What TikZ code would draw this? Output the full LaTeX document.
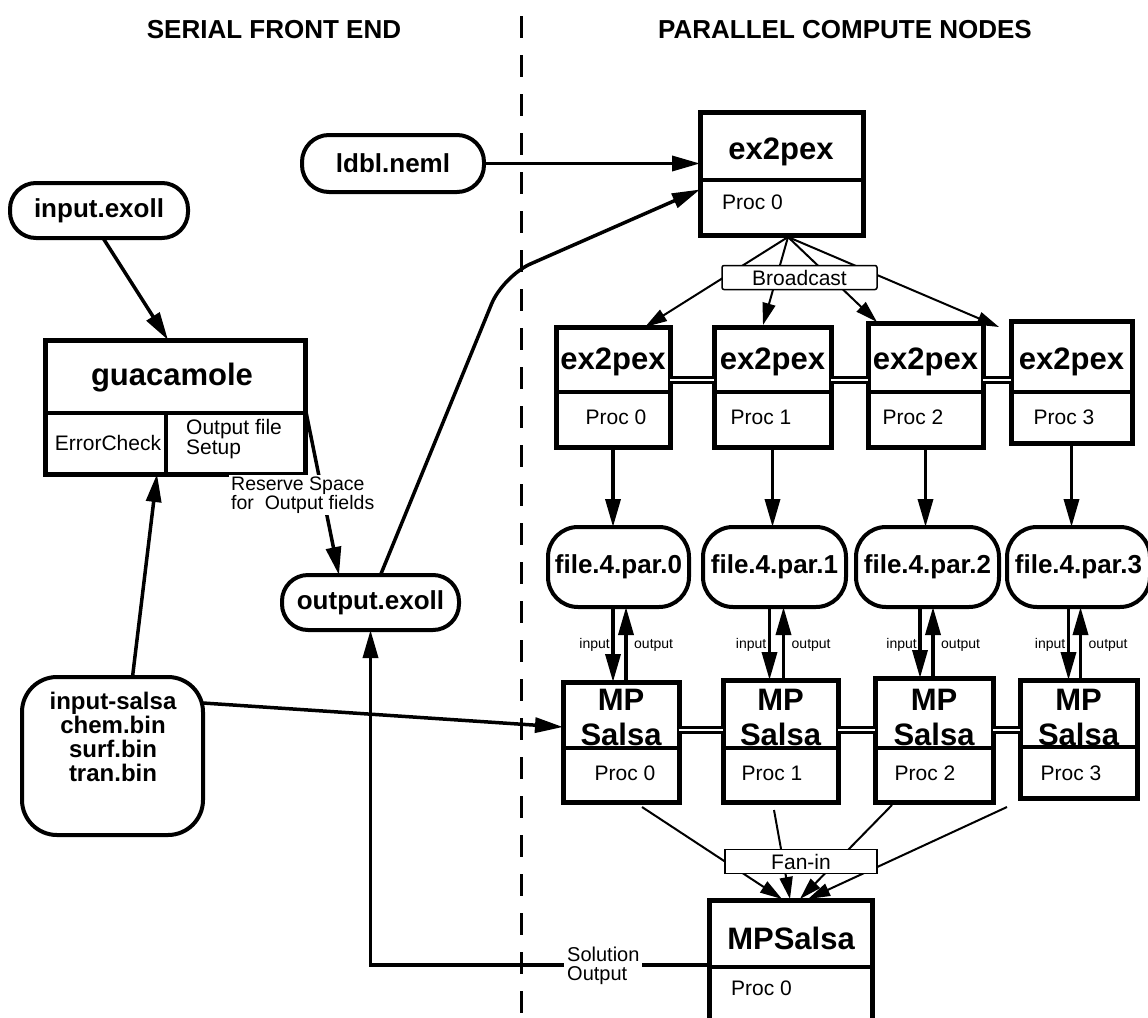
\documentclass[tikz,border=0pt]{standalone}
\usepackage{fontspec}
\setmainfont{Liberation Sans}
\usetikzlibrary{arrows.meta}
\tikzset{
  boxn/.style={draw, line width=5pt, inner sep=0pt, outer sep=0pt},
  pill/.style={draw, line width=4pt, rounded corners=#1, inner sep=0pt, outer sep=0pt},
  divl/.style={line width=3.5pt},
  ttl/.style={font=\fontsize{26}{28}\selectfont\bfseries, inner sep=0pt},
  lbig/.style={font=\fontsize{31}{32}\selectfont\bfseries, inner sep=0pt},
  lpill/.style={font=\fontsize{26}{26}\selectfont\bfseries, inner sep=0pt},
  lproc/.style={font=\fontsize{21}{21}\selectfont, inner sep=0pt},
  lnote/.style={font=\fontsize{19.5}{16.5}\selectfont, inner sep=2pt, align=left, fill=white},
  lsol/.style={font=\fontsize{20}{19}\selectfont, inner sep=3pt, align=left, fill=white},
  lio/.style={font=\fontsize{14}{14}\selectfont, inner sep=0pt},
  tagbox/.style={draw, line width=1.5pt, fill=white, rounded corners=2pt, inner sep=0pt,
    minimum height=24pt, font=\fontsize{21}{21}\selectfont},
  conn/.style={line width=3.5pt, -{Triangle[length=28pt,width=15pt]}},
  fine/.style={line width=2pt, -{Triangle[length=22pt,width=13pt]}},
  linkln/.style={line width=2.5pt, double, double distance=2.5pt},
  sepline/.style={line width=3pt, dash pattern=on 22pt off 17pt},
}
\begin{document}
\begin{tikzpicture}[x=1pt,y=-1pt]
\useasboundingbox (0,0) rectangle (1148,1017);
\fill[white] (0,0) rectangle (1148,1017);

% titles and separator
\node[ttl] (t1) at (274,30) {SERIAL FRONT END};
\node[ttl] (t2) at (845,30) {PARALLEL COMPUTE NODES};
\coordinate (septop) at (521,16);
\coordinate (sepbot) at (521,1017);
\draw[sepline] (septop) -- (sepbot);

% serial side nodes
\node[pill=27pt, minimum width=182pt, minimum height=57pt, lpill] (ldbl) at (393,163.5) {ldbl.neml};
\node[pill=26pt, minimum width=178pt, minimum height=55pt, lpill] (inexoll) at (99,210.5) {input.exoll};
\node[boxn, minimum width=260pt, minimum height=134pt] (guac) at (175,407) {};
\node[lbig] (guact) at (172,378) {guacamole};
\draw[divl] (45,413) -- (305,413);
\draw[divl] (166,413) -- (166,474);
\node[lproc] (errc) at (108,443) {ErrorCheck};
\node[lproc, anchor=west, align=left, font=\fontsize{21}{18}\selectfont] (ofs) at (186,439) {Output file\\Setup};
\node[pill=26pt, minimum width=177pt, minimum height=55pt, lpill] (outexoll) at (370.5,602.5) {output.exoll};
\node[pill=35pt, minimum width=181pt, minimum height=158pt, inner sep=0pt] (insalsa) at (112.5,756) {};
\node[lpill, align=center, font=\fontsize{24}{24}\selectfont\bfseries] (insalsat) at (113,737) {input-salsa\\chem.bin\\surf.bin\\tran.bin};

% top ex2pex
\node[boxn, minimum width=163pt, minimum height=123pt] (ex0) at (781.5,173.5) {};
\node[lbig] (ex0t) at (781,152) {ex2pex};
\draw[divl] (700,180) -- (863,180);
\node[lproc, anchor=west] (ex0p) at (722,202) {Proc 0};

% ex2pex row
\node[boxn, minimum width=114pt, minimum height=120pt] (B1) at (613,387) {};
\node[boxn, minimum width=117pt, minimum height=120pt] (B2) at (772.5,387) {};
\node[boxn, minimum width=115pt, minimum height=124pt] (B3) at (925.5,385) {};
\node[boxn, minimum width=121pt, minimum height=122pt] (B4) at (1071.5,382) {};
\foreach \n/\cx/\px/\k in {B1/613/616/0,B2/772.5/761/1,B3/925.5/913/2,B4/1071.5/1064/3}{
  \node[lbig] (\n t) at (\cx,362) {ex2pex};
  \node[lproc] (\n p) at (\px,417) {Proc \k};
}
\draw[divl] (556,392) -- (670,392);
\draw[divl] (714,392) -- (831,392);
\draw[divl] (868,392) -- (983,392);
\draw[divl] (1011,392) -- (1132,392);
\coordinate (ylinkB) at (0,380);
\draw[linkln] (B1.east |- ylinkB) -- (B2.west |- ylinkB);
\draw[linkln] (B2.east |- ylinkB) -- (B3.west |- ylinkB);
\draw[linkln] (B3.east |- ylinkB) -- (B4.west |- ylinkB);

% file pills
\node[pill=30pt, minimum width=141pt, minimum height=80pt, lpill] (P1) at (618.5,567) {file.4.par.0};
\node[pill=30pt, minimum width=143pt, minimum height=80pt, lpill] (P2) at (774.5,567) {file.4.par.1};
\node[pill=30pt, minimum width=143pt, minimum height=80pt, lpill] (P3) at (927.5,567) {file.4.par.2};
\node[pill=30pt, minimum width=143pt, minimum height=80pt, lpill] (P4) at (1078.5,567) {file.4.par.3};

% MP Salsa row
\node[boxn, minimum width=116pt, minimum height=120pt] (M1) at (621,742) {};
\node[boxn, minimum width=115pt, minimum height=122pt] (M2) at (780.5,741) {};
\node[boxn, minimum width=118pt, minimum height=124pt] (M3) at (934,740) {};
\node[boxn, minimum width=117pt, minimum height=118pt] (M4) at (1078.5,739) {};
\foreach \n/\cx/\px/\k in {M1/621/625/0,M2/780.5/772/1,M3/934/925/2,M4/1078.5/1071/3}{
  \node[lbig] (\n a) at (\cx,700) {MP};
  \node[lbig] (\n b) at (\cx,734) {Salsa};
  \node[lproc] (\n p) at (\px,773) {Proc \k};
}
\draw[divl] (563,748) -- (679,748);
\draw[divl] (723,748) -- (838,748);
\draw[divl] (875,748) -- (993,748);
\draw[divl] (1020,747) -- (1137,747);
\coordinate (ylinkM) at (0,730);
\draw[linkln] (M1.east |- ylinkM) -- (M2.west |- ylinkM);
\draw[linkln] (M2.east |- ylinkM) -- (M3.west |- ylinkM);
\draw[linkln] (M3.east |- ylinkM) -- (M4.west |- ylinkM);

% final MPSalsa
\node[boxn, minimum width=163pt, minimum height=130pt] (MPS) at (790.5,965) {};
\node[lbig] (MPSt) at (791,938) {MPSalsa};
\draw[divl] (709,967) -- (872,967);
\node[lproc, anchor=west] (MPSp) at (731,988) {Proc 0};

% serial connectors
\draw[conn] ([xshift=4pt]inexoll.south) -- ([xshift=-7pt]guac.north);
\draw[conn] ([xshift=20pt]insalsa.north) -- ([xshift=-18pt]guac.south);
\coordinate (rsvend) at (339,575);
\draw[conn] (guac.east) -- (rsvend);
\node[lnote, anchor=west] (rsv) at (229,495) {Reserve Space\\for\ \ Output fields};
\draw[conn] (ldbl.east) -- (ldbl.east -| ex0.west);
\coordinate (bend) at (503,276);
\draw[conn, rounded corners=30pt] ([xshift=10pt]outexoll.north) -- (bend) -- ([yshift=-16pt]ex0.west);
\draw[conn] ([yshift=53pt]insalsa.east) -- ([yshift=15pt]M1.west);
\draw[conn] (MPS.west) -| (outexoll.south);
\node[lsol, anchor=west] (sol) at (564,966) {Solution\\Output};

% broadcast
\coordinate (bsrc) at (788,237);
\coordinate (bt1) at (645,327);
\coordinate (bt2) at (763,325);
\coordinate (bt3) at (877,322);
\coordinate (bt4) at (999,327);
\foreach \t in {bt1,bt2,bt3,bt4}{ \draw[fine] (bsrc) -- (\t); }
\node[tagbox, minimum width=155pt] (bcast) at (799.5,277.5) {Broadcast};

% ex2pex -> files
\draw[conn] (B1.south) -- (B1.south |- P1.north);
\draw[conn] (B2.south) -- (B2.south |- P2.north);
\draw[conn] (B3.south) -- (B3.south |- P3.north);
\draw[conn] (B4.south) -- (B4.south |- P4.north);

% files <-> MP Salsa
\foreach \m/\p/\di/\do in {M1/P1/-8/5,M2/P2/-11/3,M3/P3/-14/-1,M4/P4/-10/2}{
  \coordinate (\m in) at ([xshift=\di pt]\m.north);
  \coordinate (\m out) at ([xshift=\do pt]\m.north);
  \draw[conn] (\m in |- \p.south) -- (\m in);
  \draw[conn] (\m out) -- (\m out |- \p.south);
  \node[lio, anchor=east] (\m il) at ([xshift=-3pt]\m in |- 0,645) {input};
  \node[lio, anchor=west] (\m ol) at ([xshift=8pt]\m out |- 0,645) {output};
}

% fan-in
\coordinate (fs1) at (642,807);
\coordinate (fs2) at (774,810);
\coordinate (fs3) at (892,805);
\coordinate (fs4) at (1007,807);
\coordinate (ft1) at (782,899);
\coordinate (ft2) at (790,899);
\coordinate (ft3) at (800,899);
\coordinate (ft4) at (808,899);
\draw[fine] (fs1) -- (ft1);
\draw[fine] (fs2) -- (ft2);
\draw[fine] (fs3) -- (ft3);
\draw[fine] (fs4) -- (ft4);
\node[tagbox, minimum width=152pt, rounded corners=0pt] (fanin) at (801,861.5) {Fan-in};
\end{tikzpicture}
\end{document}
